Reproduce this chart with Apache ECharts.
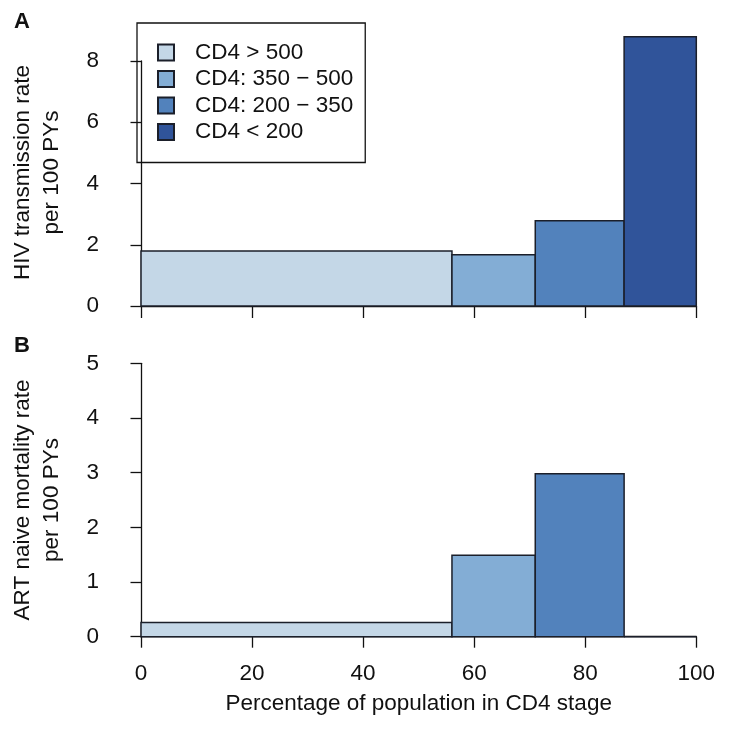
<!DOCTYPE html>
<html>
<head>
<meta charset="utf-8">
<script src="https://cdn.jsdelivr.net/npm/echarts@6/dist/echarts.min.js"></script>
<style>html,body{margin:0;padding:0;background:#fff}#c{width:729px;height:729px}</style>
</head>
<body>
<div id="c"></div>
<script>
const stages = ['CD4 > 500', 'CD4: 350 \u2212 500', 'CD4: 200 \u2212 350', 'CD4 < 200'];
const stageStart = [0, 56, 71, 87];
const stageEnd = [56, 71, 87, 100];
const transmissionRate = [1.80, 1.67, 2.78, 8.79];
const mortalityRate = [0.26, 1.49, 2.98, 0];
const xTicks = [0, 20, 40, 60, 80, 100];
const topYTicks = [0, 2, 4, 6, 8];
const bottomYTicks = [0, 1, 2, 3, 4, 5];
const colors = ['#C4D7E7', '#83ADD5', '#5282BC', '#30549A'];

const FONT = '"Liberation Sans", Arial, Helvetica, sans-serif';
const TXT = '#111';
const FS = 22.5;

function renderBar(params, api) {
  const p0 = api.coord([api.value(0), 0]);
  const p1 = api.coord([api.value(1), api.value(2)]);
  return {
    type: 'rect',
    shape: { x: p0[0], y: p1[1], width: p1[0] - p0[0], height: p0[1] - p1[1] },
    style: { fill: api.visual('color'), stroke: '#1b1f2a', lineWidth: 1.5 }
  };
}

const series = [];
[transmissionRate, mortalityRate].forEach((vals, gi) => {
  stages.forEach((s, i) => {
    series.push({
      type: 'custom',
      name: s,
      xAxisIndex: gi,
      yAxisIndex: gi,
      clip: false,
      renderItem: renderBar,
      itemStyle: { color: colors[i], borderColor: '#1b1f2a', borderWidth: 1 },
      encode: { x: [0, 1], y: 2 },
      data: [[stageStart[i], stageEnd[i], vals[i]]],
      z: 2
    });
  });
});

const axisLine = { show: true, lineStyle: { color: '#111', width: 1.3 } };

function yAxis(gi, ticks, name, namePad) {
  return {
    type: 'value', gridIndex: gi, min: ticks[0], max: ticks[ticks.length - 1],
    interval: ticks[1] - ticks[0],
    offset: 23,
    axisLine: axisLine,
    axisTick: { show: true, length: 10.5, lineStyle: { color: '#111', width: 1.3 } },
    axisLabel: { color: TXT, fontSize: FS, fontFamily: FONT, margin: 19 },
    splitLine: { show: false },
    name: name, nameLocation: 'middle', nameRotate: 90, nameGap: 52,
    nameTextStyle: { color: TXT, fontSize: FS, fontFamily: FONT, lineHeight: 29, padding: namePad }
  };
}

const option = {
  animation: false,
  backgroundColor: '#fff',
  title: [
    { text: 'A', left: 14, top: 11, padding: 0, textStyle: { fontSize: 22, fontWeight: 'bold', color: TXT, fontFamily: FONT } },
    { text: 'B', left: 14, top: 335, padding: 0, textStyle: { fontSize: 22, fontWeight: 'bold', color: TXT, fontFamily: FONT } }
  ],
  legend: {
    data: stages,
    orient: 'vertical',
    left: 137, top: 23,
    padding: [18, 12, 19, 20],
    borderColor: '#111', borderWidth: 1.3,
    itemWidth: 16, itemHeight: 16, itemGap: 3.5,
    icon: 'rect',
    selectedMode: false,
    textStyle: { color: TXT, fontSize: FS, fontFamily: FONT, padding: [0, 0, 0, 16], lineHeight: 22 }
  },
  grid: [
    { left: 140.7, top: 61, width: 555.6, height: 245 },
    { left: 140.7, top: 363.3, width: 555.6, height: 273.4 }
  ],
  xAxis: [
    {
      type: 'value', gridIndex: 0, min: xTicks[0], max: xTicks[xTicks.length - 1],
      interval: xTicks[1] - xTicks[0], offset: 3,
      axisLine: axisLine,
      axisTick: { show: true, length: 12, lineStyle: { color: '#111', width: 1.3 } },
      axisLabel: { show: false },
      splitLine: { show: false }
    },
    {
      type: 'value', gridIndex: 1, min: xTicks[0], max: xTicks[xTicks.length - 1],
      interval: xTicks[1] - xTicks[0],
      axisLine: axisLine,
      axisTick: { show: true, length: 11, lineStyle: { color: '#111', width: 1.3 } },
      axisLabel: { color: TXT, fontSize: FS, fontFamily: FONT, margin: 26 },
      splitLine: { show: false },
      name: 'Percentage of population in CD4 stage', nameLocation: 'middle', nameGap: 56,
      nameTextStyle: { color: TXT, fontSize: FS, fontFamily: FONT }
    }
  ],
  yAxis: [
    yAxis(0, topYTicks, 'HIV transmission rate\nper 100 PYs', [0, 0, 0, 22]),
    yAxis(1, bottomYTicks, 'ART naive mortality rate\nper 100 PYs', 0)
  ],
  series: series
};

const chart = echarts.init(document.getElementById('c'), null, { renderer: 'canvas' });
chart.setOption(option);
</script>
</body>
</html>
